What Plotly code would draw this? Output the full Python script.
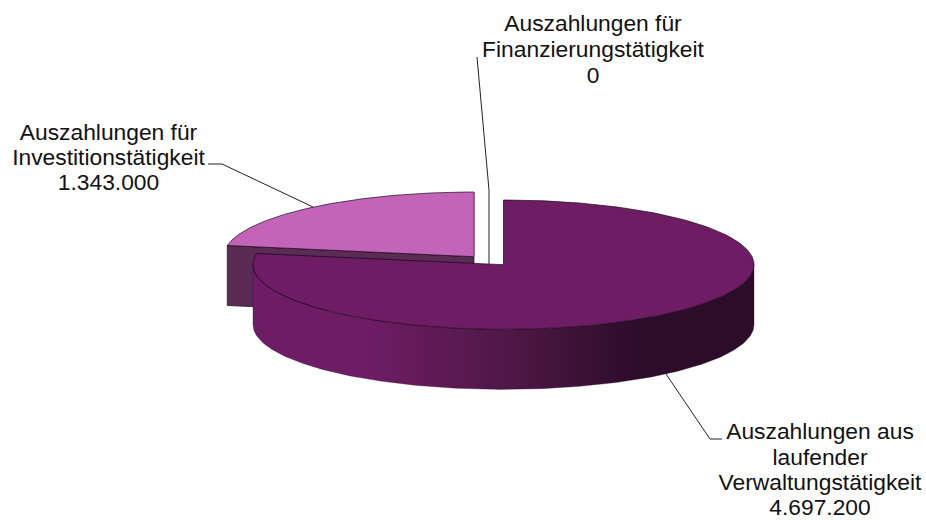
import numpy as np
import plotly.graph_objects as go

categories = ["Auszahlungen aus<br>laufender<br>Verwaltungstätigkeit",
              "Auszahlungen für<br>Investitionstätigkeit",
              "Auszahlungen für<br>Finanzierungstätigkeit"]
values = [4697200, 1343000, 0]
value_labels = ["4.697.200", "1.343.000", "0"]

RX, RY, DEPTH = 250.5, 64.7, 60
MAIN_C = (503.5, 264.7)
PINK_C = (474, 256.7)
total = sum(values)

def pt(c, t, dy=0):
    return c[0] + RX * np.sin(t), c[1] - RY * np.cos(t) + dy

def arc(c, a0, a1, dy=0):
    t = np.linspace(a0, a1, 240)
    return pt(c, t, dy)

main_span = 2 * np.pi * values[0] / total
pink_span = 2 * np.pi * values[1] / total

fig = go.Figure()
EDGE = "rgba(20,5,20,0.85)"

def poly(x, y, fill, line=EDGE, **kw):
    fig.add_trace(go.Scatter(x=list(x), y=list(y), mode="lines", fill="toself", fillcolor=fill,
                             line=dict(color=line, width=0.8), hoverinfo="skip", showlegend=False, **kw))

# pink slice: wall then top (runs anticlockwise from 12 o'clock)
ex, ey = pt(PINK_C, -pink_span)
poly([ex, ex, PINK_C[0], PINK_C[0], ex], [ey, ey + DEPTH, PINK_C[1] + DEPTH, PINK_C[1], ey], "#5a2b55")
ax, ay = arc(PINK_C, -pink_span, 0)
poly(list(ax) + [PINK_C[0], ex], list(ay) + [PINK_C[1], ey], "#c364b8")
fig.add_trace(go.Scatter(x=[PINK_C[0], PINK_C[0]], y=[ay[-1], PINK_C[1]], mode="lines",
                         line=dict(color="#8a5a88", width=1.5), hoverinfo="skip", showlegend=False))

# main slice: outer wall with horizontal shading, then top
fx, fy = arc(MAIN_C, np.pi / 2, 3 * np.pi / 2)
bx, by = arc(MAIN_C, 3 * np.pi / 2, np.pi / 2, DEPTH)
fig.add_trace(go.Scatter(
    x=list(fx) + list(bx) + [fx[0]], y=list(fy) + list(by) + [fy[0]], mode="lines", fill="toself",
    fillgradient=dict(type="horizontal", start=253, stop=754,
                      colorscale=[[0, "#6e1c64"], [0.23, "#6e1c64"], [0.5, "#501848"],
                                  [0.77, "#2d0c2a"], [1, "#2d0c2a"]]),
    line=dict(color="rgba(40,10,40,0.55)", width=0.6), hoverinfo="skip", showlegend=False))
tx, ty = arc(MAIN_C, 0, main_span)
poly(list(tx) + [MAIN_C[0], tx[0]], list(ty) + [MAIN_C[1], ty[0]], "#6e1c64")

# leader lines
leaders = [([666, 710, 722], [374, 439, 439]),
           ([208, 222, 313], [164, 164, 207]),
           ([477, 489, 489], [57, 190, 264])]
for lx, ly in leaders:
    fig.add_trace(go.Scatter(x=lx, y=ly, mode="lines", line=dict(color="#222222", width=1),
                             hoverinfo="skip", showlegend=False))

# label blocks: centre x, first-line y, line pitch
label_pos = [(820, 433.5, 25.4), (108.5, 134.5, 25), (593, 25.5, 26)]
text_x, text_y, text_s = [], [], []
for c, v, (px, py, pitch) in zip(categories, value_labels, label_pos):
    for i, line in enumerate(c.split("<br>") + [v]):
        text_x.append(px)
        text_y.append(py + i * pitch)
        text_s.append(line)
fig.add_trace(go.Scatter(x=text_x, y=text_y, text=text_s, mode="text", textposition="middle center",
                         textfont=dict(family="Liberation Sans", size=22.8, color="#111111"),
                         cliponaxis=False, hoverinfo="skip", showlegend=False))

fig.update_layout(
    width=926, height=520, margin=dict(l=0, r=0, t=0, b=0),
    paper_bgcolor="white", plot_bgcolor="white", showlegend=False,
    xaxis=dict(range=[0, 926], visible=False, fixedrange=True),
    yaxis=dict(range=[520, 0], visible=False, fixedrange=True),
)
fig.write_html("out.html", config=dict(displayModeBar=False),
               post_script="document.body.style.margin='0';document.body.style.overflow='hidden';")
